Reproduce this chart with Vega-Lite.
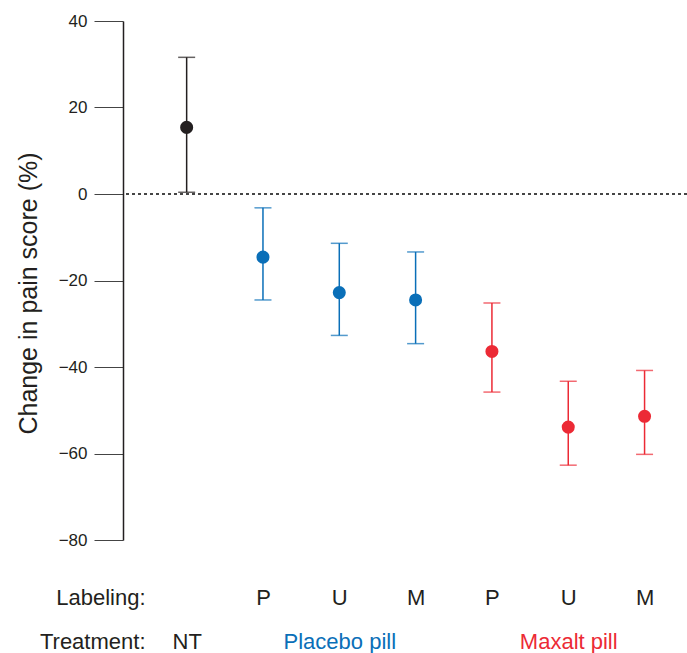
{
  "$schema": "https://vega.github.io/schema/vega-lite/v6.json",
  "width": 564,
  "height": 519,
  "autosize": {"type": "none"},
  "padding": {"left": 123, "top": 21, "right": 0, "bottom": 113},
  "background": "white",
  "config": {
    "view": {"stroke": null},
    "font": "Liberation Sans",
    "axis": {"grid": false, "labelFont": "Liberation Sans", "titleFont": "Liberation Sans"}
  },
  "data": {
    "values": [
      {"group": "NT", "treatment": "None", "mean": 15.4, "lo": 0.4, "hi": 31.6},
      {"group": "P (placebo)", "treatment": "Placebo pill", "mean": -14.6, "lo": -24.5, "hi": -3.2},
      {"group": "U (placebo)", "treatment": "Placebo pill", "mean": -22.8, "lo": -32.7, "hi": -11.4},
      {"group": "M (placebo)", "treatment": "Placebo pill", "mean": -24.5, "lo": -34.6, "hi": -13.4},
      {"group": "P (Maxalt)", "treatment": "Maxalt pill", "mean": -36.4, "lo": -45.8, "hi": -25.2},
      {"group": "U (Maxalt)", "treatment": "Maxalt pill", "mean": -53.9, "lo": -62.7, "hi": -43.3},
      {"group": "M (Maxalt)", "treatment": "Maxalt pill", "mean": -51.4, "lo": -60.2, "hi": -40.8}
    ]
  },
  "resolve": {"scale": {"x": "independent"}, "axis": {"x": "independent"}},
  "layer": [
    {
      "encoding": {
        "x": {
          "field": "group", "type": "nominal", "sort": null,
          "scale": {"type": "point", "padding": 0.695, "align": 0.6},
          "axis": {
            "orient": "bottom", "domain": false, "ticks": false, "tickSize": 0,
            "labelAngle": 0, "labelPadding": 57, "labelBaseline": "middle",
            "labelFontSize": 22, "labelColor": "#231f20",
            "labelExpr": "datum.value == 'NT' ? '' : substring(datum.value, 0, 1)",
            "title": "Labeling:", "titleFontSize": 22, "titleFontWeight": "normal",
            "titleColor": "#231f20", "titleAlign": "right", "titleBaseline": "middle",
            "titleX": 22, "titleY": 57, "titleAnchor": null
          }
        },
        "color": {
          "field": "treatment", "type": "nominal", "legend": null,
          "scale": {"domain": ["None", "Placebo pill", "Maxalt pill"], "range": ["#231f20", "#0a6fb8", "#ec2a35"]}
        }
      },
      "layer": [
        {
          "mark": {"type": "rule", "strokeDash": [3, 3], "color": "#444444", "strokeWidth": 1},
          "encoding": {"y": {"datum": 0, "type": "quantitative"}, "x": null, "color": null}
        },
        {
          "mark": {"type": "rule", "strokeWidth": 1.5},
          "encoding": {
            "y": {
              "field": "lo", "type": "quantitative",
              "scale": {"domain": [-80, 40], "nice": false, "zero": false},
              "axis": {
                "values": [-80, -60, -40, -20, 0, 20, 40],
                "tickSize": 29, "tickColor": "#444444", "tickWidth": 1,
                "domainColor": "#231f20", "domainWidth": 1.5,
                "labelFontSize": 17, "labelColor": "#231f20", "labelPadding": 7,
                "title": "Change in pain score (%)", "titleFontSize": 25,
                "titleFontWeight": "normal", "titleColor": "#231f20",
                "titleAngle": -90, "titleAlign": "center", "titleBaseline": "middle",
                "titleX": -95, "titleY": 272
              }
            },
            "y2": {"field": "hi"}
          }
        },
        {
          "mark": {"type": "tick", "size": 17, "thickness": 1.5, "orient": "horizontal"},
          "encoding": {"y": {"field": "lo", "type": "quantitative"}}
        },
        {
          "mark": {"type": "tick", "size": 17, "thickness": 1.5, "orient": "horizontal"},
          "encoding": {"y": {"field": "hi", "type": "quantitative"}}
        },
        {
          "mark": {"type": "point", "filled": true, "size": 170, "opacity": 1},
          "encoding": {"y": {"field": "mean", "type": "quantitative"}}
        }
      ]
    },
    {
      "mark": {"type": "point", "opacity": 0},
      "encoding": {
        "x": {
          "field": "group", "type": "nominal", "sort": null,
          "scale": {"type": "point", "padding": 0.695, "align": 0.6},
          "axis": {
            "orient": "bottom", "domain": false, "ticks": false, "tickSize": 0,
            "values": ["NT", "U (placebo)", "U (Maxalt)"],
            "labelAngle": 0, "labelPadding": 101, "labelBaseline": "middle",
            "labelFontSize": 22,
            "labelColor": {"expr": "datum.value == 'U (placebo)' ? '#0a6fb8' : datum.value == 'U (Maxalt)' ? '#ec2a35' : '#231f20'"},
            "labelExpr": "datum.value == 'NT' ? 'NT' : datum.value == 'U (placebo)' ? 'Placebo pill' : 'Maxalt pill'",
            "title": "Treatment:", "titleFontSize": 22, "titleFontWeight": "normal",
            "titleColor": "#231f20", "titleAlign": "right", "titleBaseline": "middle",
            "titleX": 22, "titleY": 101, "titleAnchor": null
          }
        },
        "y": {"field": "mean", "type": "quantitative"}
      }
    }
  ]
}
